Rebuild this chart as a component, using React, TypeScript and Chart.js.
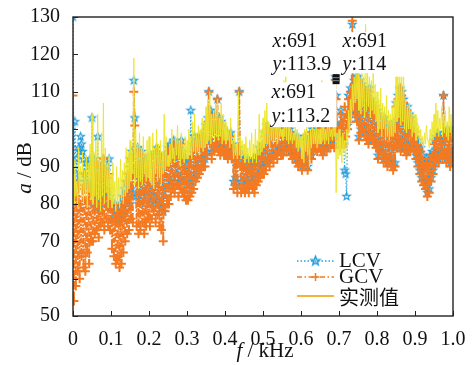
import React, { useEffect, useRef } from 'react';
import { Chart, registerables } from 'chart.js';
Chart.register(...registerables);

// sample spacing of the spectrum (kHz)
const FREQ_STEP_KHZ = 0.0025;

const LCV = [
  130, 84, 102, 88, 92, 86, 95, 94, 98, 96, 94, 92, 88, 86, 91, 85, 90, 84, 92, 85,
  103, 80, 92, 82, 90, 79, 98, 80, 88, 78, 90, 81, 92, 80, 89, 82, 90, 80, 92, 82,
  80, 76, 79, 75, 80, 76, 78, 75, 79, 76, 80, 76, 82, 77, 84, 78, 86, 80, 88, 80,
  92, 84, 94, 83, 113, 103, 90, 82, 95, 80, 92, 81, 94, 83, 91, 80, 92, 82, 92, 84,
  92, 80, 93, 82, 90, 82, 93, 80, 95, 81, 91, 80, 93, 79, 90, 78, 93, 82, 92, 84,
  95, 85, 96, 86, 94, 87, 97, 86, 95, 88, 96, 85, 95, 87, 97, 86, 94, 86, 92, 85,
  90, 84, 92, 85, 105, 86, 96, 87, 98, 88, 97, 90, 98, 91, 97, 92, 98, 92, 99, 92,
  101, 94, 103, 110, 97, 105, 94, 101, 104, 95, 101, 96, 108, 96, 103, 95, 102, 96, 100, 95,
  98, 94, 99, 93, 97, 94, 99, 93, 96, 86, 94, 87, 93, 85, 95, 110, 92, 86, 93, 86,
  92, 85, 90, 86, 92, 85, 91, 87, 90, 86, 92, 85, 91, 87, 93, 88, 95, 89, 94, 90,
  96, 90, 99, 91, 101, 92, 98, 92, 100, 93, 99, 93, 101, 94, 100, 94, 99, 95, 100, 95,
  99, 94, 100, 96, 101, 95, 99, 96, 100, 94, 99, 93, 98, 94, 97, 92, 98, 91, 97, 92,
  93, 90, 95, 91, 98, 92, 96, 90, 97, 94, 99, 93, 100, 95, 98, 96, 99, 95, 100, 96,
  100, 95, 101, 94, 99, 96, 100, 95, 101, 97, 99, 96, 101, 97, 100, 96, 114, 109, 101, 98,
  101, 96, 105, 97, 103, 96, 89, 88, 82, 101, 109, 103, 111, 105, 128, 107, 113, 105, 114, 103,
  114, 98, 113, 100, 112, 101, 111, 99, 110, 98, 109, 97, 111, 99, 108, 98, 107, 97, 106, 96,
  105, 93, 104, 95, 102, 94, 101, 92, 103, 93, 100, 91, 99, 92, 101, 91, 100, 90, 102, 91,
  107, 96, 109, 97, 111, 95, 110, 97, 108, 95, 105, 94, 106, 96, 104, 95, 103, 96, 101, 95,
  99, 93, 97, 91, 96, 89, 95, 87, 93, 86, 91, 85, 92, 83, 91, 84, 93, 87, 94, 89,
  97, 91, 98, 93, 99, 92, 98, 94, 97, 93, 109, 94, 99, 92, 100, 93, 98, 91, 100, 93,
  94,
];

const GCV = [
  109, 54, 86, 58, 82, 62, 85, 60, 80, 66, 84, 63, 88, 62, 81, 67, 85, 64, 83, 70,
  90, 70, 88, 72, 91, 73, 87, 71, 90, 74, 88, 75, 92, 73, 89, 76, 87, 74, 88, 73,
  80, 68, 78, 66, 76, 64, 79, 65, 77, 63, 78, 64, 80, 67, 82, 70, 86, 72, 88, 73,
  90, 76, 92, 75, 110, 101, 88, 74, 94, 72, 90, 73, 93, 75, 89, 72, 91, 74, 90, 76,
  90, 74, 92, 76, 88, 78, 91, 75, 94, 77, 89, 74, 92, 73, 88, 70, 92, 78, 90, 80,
  94, 80, 95, 82, 92, 84, 96, 83, 93, 85, 95, 82, 94, 84, 96, 83, 92, 82, 90, 81,
  88, 81, 90, 82, 92, 83, 94, 84, 96, 86, 95, 87, 97, 88, 95, 89, 97, 90, 98, 90,
  100, 93, 102, 110, 96, 104, 92, 100, 103, 94, 100, 95, 108, 94, 102, 93, 101, 94, 99, 93,
  97, 93, 98, 92, 96, 93, 98, 92, 95, 84, 93, 85, 92, 83, 94, 110, 90, 83, 91, 84,
  90, 83, 89, 84, 91, 83, 90, 85, 89, 84, 91, 83, 90, 85, 92, 86, 93, 87, 92, 88,
  95, 88, 98, 89, 100, 91, 97, 90, 99, 92, 98, 91, 100, 93, 99, 92, 98, 94, 99, 93,
  98, 93, 99, 95, 100, 94, 98, 95, 99, 93, 98, 92, 97, 93, 96, 91, 97, 90, 96, 91,
  92, 89, 94, 90, 97, 91, 95, 89, 96, 93, 98, 92, 99, 94, 97, 95, 98, 94, 99, 95,
  99, 94, 100, 93, 98, 95, 99, 94, 100, 96, 98, 95, 100, 96, 99, 95, 113.2, 108, 100, 97,
  100, 95, 104, 97, 102, 96, 106, 98, 104, 100, 108, 102, 110, 104, 129, 106, 112, 104, 113, 102,
  113, 97, 112, 99, 111, 100, 110, 98, 109, 97, 108, 96, 110, 98, 107, 97, 106, 96, 105, 95,
  104, 92, 103, 94, 101, 93, 100, 91, 102, 92, 99, 90, 98, 91, 100, 90, 99, 89, 101, 90,
  106, 95, 108, 96, 111, 94, 109, 96, 107, 94, 104, 93, 105, 95, 103, 94, 102, 95, 100, 94,
  98, 92, 96, 90, 95, 88, 94, 86, 92, 85, 90, 84, 91, 82, 90, 83, 92, 86, 93, 88,
  96, 90, 97, 92, 98, 91, 97, 93, 96, 92, 109, 93, 98, 91, 99, 92, 97, 90, 99, 92,
  93,
];

const MEASURED = [
  88, 80, 92, 82, 86, 79, 95, 83, 90, 81, 94, 80, 89, 82, 93, 79, 91, 83, 96, 81,
  104, 80, 94, 82, 97, 79, 104, 81, 92, 78, 99, 82, 107, 80, 95, 83, 91, 79, 93, 81,
  88, 79, 91, 80, 86, 78, 90, 80, 87, 79, 92, 81, 89, 80, 91, 82, 95, 83, 94, 84,
  97, 86, 94, 88, 119, 85, 100, 87, 96, 84, 99, 86, 95, 85, 98, 88, 94, 86, 97, 87,
  98, 86, 94, 85, 99, 84, 95, 88, 100, 86, 96, 87, 97, 85, 94, 88, 104, 89, 98, 90,
  93, 90, 96, 91, 100, 92, 95, 91, 98, 93, 101, 92, 97, 90, 99, 92, 96, 91, 98, 92,
  97, 92, 100, 93, 98, 92, 102, 94, 104, 93, 99, 94, 101, 93, 100, 95, 103, 94, 102, 95,
  106, 96, 108, 97, 110, 96, 104, 98, 105, 97, 107, 98, 108, 97, 103, 98, 107, 96, 104, 97,
  102, 96, 101, 97, 100, 95, 103, 96, 97, 92, 99, 93, 96, 92, 110, 93, 98, 92, 97, 93,
  96, 91, 98, 92, 95, 91, 97, 92, 99, 91, 96, 92, 100, 91, 97, 93, 104, 93, 100, 94,
  103, 95, 105, 96, 107, 96, 102, 95, 104, 97, 103, 96, 105, 97, 102, 96, 104, 97, 101, 98,
  100, 97, 113, 98, 114, 97, 112, 96, 101, 97, 100, 96, 99, 97, 101, 95, 100, 94, 99, 95,
  98, 92, 99, 91, 100, 94, 101, 93, 99, 90, 100, 95, 102, 96, 100, 96, 101, 95, 100, 96,
  100, 96, 113, 97, 101, 96, 100, 97, 102, 96, 101, 98, 100, 97, 102, 98, 113.9, 83, 99, 92,
  100, 93, 98, 91, 99, 94, 97, 92, 100, 95, 105, 99, 108, 102, 112, 105, 114, 107, 115, 108,
  115, 105, 114, 104, 115, 106, 114, 103, 128, 105, 115, 106, 114, 103, 113, 105, 115, 104, 112, 102,
  110, 99, 108, 100, 111, 98, 107, 100, 106, 97, 109, 98, 105, 97, 104, 98, 106, 98, 108, 99,
  114, 102, 114, 103, 114, 101, 114, 102, 114, 100, 108, 99, 106, 100, 107, 100, 105, 98, 104, 99,
  104, 97, 103, 98, 101, 96, 100, 96, 98, 95, 99, 96, 101, 97, 97, 95, 100, 96, 102, 97,
  104, 98, 107, 99, 105, 98, 103, 100, 106, 98, 104, 99, 105, 98, 102, 97, 106, 99, 104, 98,
  97,
];

const X_TICKS = [0, 0.1, 0.2, 0.3, 0.4, 0.5, 0.6, 0.7, 0.8, 0.9, 1.0];
const Y_TICKS = [50, 60, 70, 80, 90, 100, 110, 120, 130];
const LEGEND_LABELS = ['LCV', 'GCV', '实测值'];
const TIP_X_HZ = 691;
const TIP_Y = { upperLeft: '113.9', upperRight: '114', lower: '113.2' };

const BLUE = '#2a9fdb';
const ORANGE = '#f47a22';
const YELLOW = '#ece62c';
const LEGEND_YELLOW = '#f3b43a';
const SERIF = "'Liberation Serif'";
const CJK = "'Noto Sans CJK SC'";

function makeStar(color: string, r: number, lw: number) {
  const size = Math.ceil(r * 2 + lw * 2 + 2);
  const c = document.createElement('canvas');
  c.width = size;
  c.height = size;
  const g = c.getContext('2d')!;
  const cx = size / 2, cy = size / 2;
  g.beginPath();
  for (let k = 0; k < 10; k++) {
    const rad = k % 2 === 0 ? r : r * 0.42;
    const ang = -Math.PI / 2 + (k * Math.PI) / 5;
    const px = cx + rad * Math.cos(ang);
    const py = cy + rad * Math.sin(ang);
    if (k === 0) g.moveTo(px, py); else g.lineTo(px, py);
  }
  g.closePath();
  g.strokeStyle = color;
  g.lineWidth = lw;
  g.stroke();
  return c;
}

function drawTip(ctx: CanvasRenderingContext2D, x: number, y1: number, y2: number, xv: string, yv: string) {
  ctx.fillStyle = '#111';
  ctx.textBaseline = 'alphabetic';
  ctx.textAlign = 'left';
  ctx.font = `italic 20px ${SERIF}`;
  ctx.fillText('x', x, y1);
  let w = ctx.measureText('x').width;
  ctx.font = `20px ${SERIF}`;
  ctx.fillText(':' + xv, x + w, y1);
  ctx.font = `italic 20px ${SERIF}`;
  ctx.fillText('y', x, y2);
  w = ctx.measureText('y').width;
  ctx.font = `20px ${SERIF}`;
  ctx.fillText(':' + yv, x + w, y2);
}

export default function App() {
  const ref = useRef<HTMLCanvasElement>(null);

  useEffect(() => {
    const canvas = ref.current!;
    const star = makeStar(BLUE, 4, 1.2);
    const legendStar = makeStar(BLUE, 4.5, 1.6);
    const toPts = (arr: number[]) => arr.map((v, i) => ({ x: i * FREQ_STEP_KHZ, y: v }));

    const decor = {
      id: 'decor',
      afterDatasetsDraw(chart: any) {
        const { ctx, chartArea: a, scales } = chart;
        const xs = scales.x, ys = scales.y;
        ctx.save();
        // data tips
        const ax = xs.getPixelForValue(TIP_X_HZ / 1000);
        const ay = ys.getPixelForValue(parseFloat(TIP_Y.upperLeft));
        ctx.fillStyle = '#ffffff';
        ctx.fillRect(ax - 65, ay - 46, 66, 43);
        ctx.fillRect(ax + 5, ay - 45, 53, 41);
        ctx.fillRect(ax - 66, ay + 5, 67, 45);
        ctx.fillStyle = '#111';
        ctx.fillRect(ax - 3, ay - 3, 7, 10);
        ctx.fillStyle = '#888';
        ctx.fillRect(ax - 3, ay, 7, 1);
        ctx.fillRect(ax - 3, ay + 3, 7, 1);
        drawTip(ctx, ax - 63, ay - 30, ay - 7, String(TIP_X_HZ), TIP_Y.upperLeft);
        drawTip(ctx, ax + 7, ay - 30, ay - 7, String(TIP_X_HZ), TIP_Y.upperRight);
        drawTip(ctx, ax - 64, ay + 21, ay + 45, String(TIP_X_HZ), TIP_Y.lower);

        // frame and inward ticks
        ctx.strokeStyle = '#222';
        ctx.lineWidth = 1.4;
        ctx.strokeRect(a.left, a.top, a.right - a.left, a.bottom - a.top);
        ctx.beginPath();
        X_TICKS.forEach((t) => {
          const px = Math.round(xs.getPixelForValue(t)) + 0.5;
          ctx.moveTo(px, a.bottom);
          ctx.lineTo(px, a.bottom - 5);
        });
        Y_TICKS.forEach((t) => {
          const py = Math.round(ys.getPixelForValue(t)) + 0.5;
          ctx.moveTo(a.left, py);
          ctx.lineTo(a.left + 5, py);
        });
        ctx.lineWidth = 1;
        ctx.stroke();

        // legend
        const lx0 = 297, lx1 = 334, tx = 339;
        const rows = [261, 277, 296];
        ctx.lineWidth = 1.5;
        ctx.strokeStyle = BLUE;
        ctx.setLineDash([1.5, 2]);
        ctx.beginPath(); ctx.moveTo(lx0, rows[0]); ctx.lineTo(lx1, rows[0]); ctx.stroke();
        ctx.setLineDash([]);
        ctx.drawImage(legendStar, (lx0 + lx1) / 2 - legendStar.width / 2, rows[0] - legendStar.height / 2);
        ctx.strokeStyle = ORANGE;
        ctx.setLineDash([5, 2.5, 1.5, 2.5]);
        ctx.beginPath(); ctx.moveTo(lx0, rows[1]); ctx.lineTo(lx1, rows[1]); ctx.stroke();
        ctx.setLineDash([]);
        const cx = (lx0 + lx1) / 2;
        ctx.beginPath();
        ctx.moveTo(cx - 4, rows[1]); ctx.lineTo(cx + 4, rows[1]);
        ctx.moveTo(cx, rows[1] - 4); ctx.lineTo(cx, rows[1] + 4);
        ctx.stroke();
        ctx.strokeStyle = LEGEND_YELLOW;
        ctx.lineWidth = 2;
        ctx.beginPath(); ctx.moveTo(lx0, rows[2]); ctx.lineTo(lx1, rows[2]); ctx.stroke();

        ctx.fillStyle = '#111';
        ctx.textAlign = 'left';
        ctx.textBaseline = 'alphabetic';
        ctx.font = `21px ${SERIF}`;
        ctx.fillText(LEGEND_LABELS[0], tx, 267);
        ctx.fillText(LEGEND_LABELS[1], tx, 283);
        ctx.font = `20px ${CJK}`;
        ctx.textBaseline = 'middle';
        ctx.fillText(LEGEND_LABELS[2], tx, 297);

        // axis titles
        ctx.textBaseline = 'alphabetic';
        ctx.font = `italic 21px ${SERIF}`;
        const fW = ctx.measureText('f').width;
        ctx.font = `21px ${SERIF}`;
        const restX = ' / kHz';
        const rW = ctx.measureText(restX).width;
        const startX = 265 - (fW + rW) / 2;
        ctx.font = `italic 21px ${SERIF}`;
        ctx.fillText('f', startX, 357);
        ctx.font = `21px ${SERIF}`;
        ctx.fillText(restX, startX + fW, 357);

        ctx.translate(31, 168);
        ctx.rotate(-Math.PI / 2);
        ctx.font = `italic 21px ${SERIF}`;
        const aW = ctx.measureText('a').width;
        ctx.font = `21px ${SERIF}`;
        const restY = ' / dB';
        const dW = ctx.measureText(restY).width;
        const sy = -(aW + dW) / 2;
        ctx.font = `italic 21px ${SERIF}`;
        ctx.fillText('a', sy, 0);
        ctx.font = `21px ${SERIF}`;
        ctx.fillText(restY, sy + aW, 0);
        ctx.restore();
      },
    };

    const chart = new Chart(canvas, {
      type: 'line',
      data: {
        datasets: [
          {
            label: LEGEND_LABELS[0],
            data: toPts(LCV),
            borderColor: BLUE,
            borderWidth: 1.2,
            borderDash: [1.5, 2],
            pointStyle: star as any,
            pointRadius: 4,
            order: 2,
          },
          {
            label: LEGEND_LABELS[1],
            data: toPts(GCV),
            borderColor: ORANGE,
            borderWidth: 1.8,
            borderDash: [5, 2, 1.5, 2],
            pointStyle: 'cross',
            pointRadius: 4.5,
            pointBorderColor: ORANGE,
            pointBorderWidth: 2,
            order: 1,
          },
          {
            label: LEGEND_LABELS[2],
            data: toPts(MEASURED),
            borderColor: YELLOW,
            borderWidth: 0.95,
            pointRadius: 0,
            order: 0,
          },
        ],
      },
      options: {
        responsive: false,
        animation: false,
        events: [],
        layout: { padding: { top: 17, right: 21, left: 0, bottom: 0 } },
        plugins: { legend: { display: false }, tooltip: { enabled: false } },
        scales: {
          x: {
            type: 'linear',
            min: 0,
            max: 1,
            grid: { display: false },
            border: { display: false },
            afterFit: (s: any) => { s.height = 49; },
            afterBuildTicks: (s: any) => { s.ticks = X_TICKS.map((v) => ({ value: v })); },
            ticks: {
              padding: 4,
              color: '#111',
              font: { family: SERIF, size: 20 },
              maxRotation: 0,
              autoSkip: false,
              callback: (v: any) => (v === 0 ? '0' : Number(v).toFixed(1)),
            },
          },
          y: {
            min: 50,
            max: 130,
            grid: { display: false },
            border: { display: false },
            afterFit: (s: any) => { s.width = 73; },
            afterBuildTicks: (s: any) => { s.ticks = Y_TICKS.map((v) => ({ value: v })); },
            ticks: {
              padding: 5,
              color: '#111',
              font: { family: SERIF, size: 20 },
              autoSkip: false,
            },
          },
        },
      },
      plugins: [decor],
    });
    return () => chart.destroy();
  }, []);

  return (
    <div style={{ position: 'fixed', left: 0, top: 0, width: 474, height: 365, background: '#fff' }}>
      <canvas ref={ref} width={474} height={365} style={{ width: 474, height: 365, display: 'block' }} />
    </div>
  );
}
